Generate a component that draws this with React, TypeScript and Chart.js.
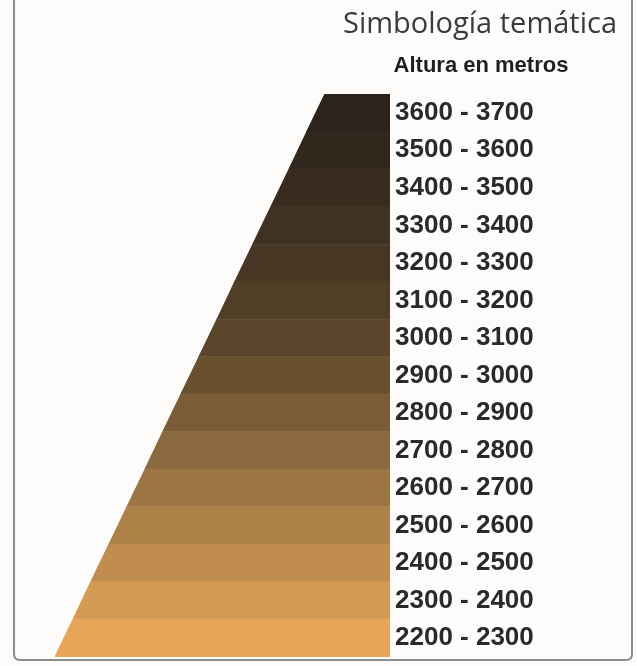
import React, { useEffect, useRef } from "react";
import { Chart, registerables } from "chart.js";

Chart.register(...registerables);

// Elevation classes (lower bound of each 100 m band), bottom to top
const bandLows = [2200, 2300, 2400, 2500, 2600, 2700, 2800, 2900, 3000, 3100, 3200, 3300, 3400, 3500, 3600];
const bandLabels = [
  "2200 - 2300", "2300 - 2400", "2400 - 2500", "2500 - 2600", "2600 - 2700",
  "2700 - 2800", "2800 - 2900", "2900 - 3000", "3000 - 3100", "3100 - 3200",
  "3200 - 3300", "3300 - 3400", "3400 - 3500", "3500 - 3600", "3600 - 3700",
];
const bandColors = [
  "#e7a657", "#d49a53", "#c08d4e", "#ad8248", "#9b7643",
  "#8a6a3e", "#7a5d37", "#69502f", "#5b452b", "#503e27",
  "#473724", "#3f3222", "#382c1f", "#31271d", "#2b231c",
];
// Relative width of the symbol at each band boundary (2200 ... 3700), 1 = full width
const boundaryWidths = [1.0, 0.946, 0.893, 0.839, 0.785, 0.731, 0.678, 0.624, 0.570, 0.516, 0.463, 0.409, 0.355, 0.301, 0.248, 0.194];

const titleText = "Simbología temática";
const subtitleText = "Altura en metros";

export default function App() {
  const ref = useRef<HTMLCanvasElement | null>(null);

  useEffect(() => {
    if (!ref.current) return;
    const datasets = bandLows.map((low, i) => ({
      label: bandLabels[i],
      data: [
        { x: 1 - boundaryWidths[i], y: low },
        { x: 1 - boundaryWidths[i + 1], y: low + 100 },
        { x: 1, y: low + 100 },
      ],
      fill: { value: low },
      backgroundColor: bandColors[i],
      borderColor: bandColors[i],
      borderWidth: 1.2,
      pointRadius: 0,
      tension: 0,
    }));

    const framePlugin = {
      id: "frame",
      beforeDraw(chart: any) {
        const ctx = chart.ctx;
        ctx.save();
        ctx.fillStyle = "#fefcfa";
        ctx.fillRect(0, 0, chart.width, chart.height);
        ctx.strokeStyle = "#8c8c8c";
        ctx.lineWidth = 2;
        const l = 14, r = 632, b = 660, rad = 6;
        ctx.beginPath();
        ctx.moveTo(l, 0);
        ctx.lineTo(l, b - rad);
        ctx.quadraticCurveTo(l, b, l + rad, b);
        ctx.lineTo(r - rad, b);
        ctx.quadraticCurveTo(r, b, r, b - rad);
        ctx.lineTo(r, 0);
        ctx.stroke();
        ctx.restore();
      },
      afterDraw(chart: any) {
        const ctx = chart.ctx;
        ctx.save();
        ctx.textBaseline = "alphabetic";
        ctx.textAlign = "right";
        ctx.fillStyle = "#3b3b3b";
        ctx.font = "29px 'Open Sans'";
        ctx.fillText(titleText, 617, 33);
        ctx.textAlign = "center";
        ctx.fillStyle = "#1f1f1f";
        ctx.font = "bold 22px 'Liberation Sans'";
        ctx.fillText(subtitleText, 481, 72);
        ctx.restore();
      },
    };

    const chart = new Chart(ref.current, {
      type: "line",
      data: { datasets },
      options: {
        animation: false,
        responsive: false,
        events: [],
        layout: { padding: { left: 55, top: 94, bottom: 9, right: 0 } },
        plugins: { legend: { display: false }, tooltip: { enabled: false }, title: { display: false } },
        scales: {
          x: { type: "linear", min: 0, max: 1, display: false },
          y: {
            type: "linear",
            position: "right",
            min: 2200,
            max: 3700,
            grid: { display: false, drawTicks: false },
            border: { display: false },
            afterFit(scale: any) {
              scale.width = 247;
              scale.paddingTop = 0;
              scale.paddingBottom = 0;
            },
            afterBuildTicks(scale: any) {
              scale.ticks = bandLows.map((l) => ({ value: l + 50 }));
            },
            ticks: {
              autoSkip: false,
              padding: 5,
              color: "#2a2a2a",
              font: { family: "'Liberation Sans'", weight: "bold", size: 26 },
              callback: (_v: any, i: number) => bandLabels[i],
            },
          },
        },
      },
      plugins: [framePlugin],
    } as any);
    return () => chart.destroy();
  }, []);

  return (
    <div style={{ position: "fixed", left: 0, top: 0, width: 637, height: 666 }}>
      <canvas ref={ref} width={637} height={666} style={{ width: 637, height: 666 }} />
    </div>
  );
}
